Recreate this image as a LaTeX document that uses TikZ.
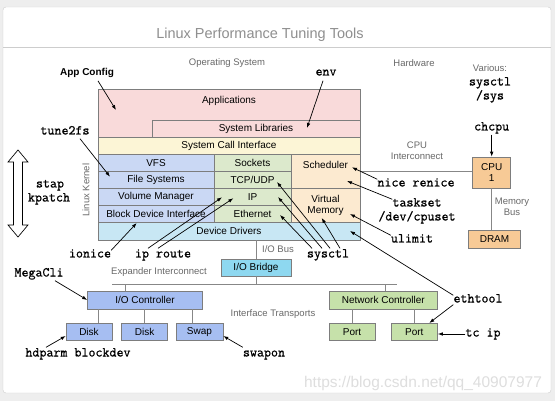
\documentclass[tikz,border=0pt]{standalone}
\usepackage{fontspec}
\setmainfont{Liberation Sans}
\newfontfamily\cmdfont{Latin Modern Mono}[FakeBold=0.9]
\usetikzlibrary{arrows.meta}

\definecolor{appcol}{RGB}{249,218,218}
\definecolor{scicol}{RGB}{252,245,214}
\definecolor{fscol}{RGB}{202,216,244}
\definecolor{netcol}{RGB}{220,233,204}
\definecolor{cpucol}{RGB}{252,234,208}
\definecolor{ddcol}{RGB}{200,231,244}
\definecolor{bridgecol}{RGB}{142,216,240}
\definecolor{iocol}{RGB}{166,190,242}
\definecolor{nccol}{RGB}{198,225,170}
\definecolor{hwcol}{RGB}{247,202,150}
\definecolor{boxline}{RGB}{125,125,125}
\definecolor{busline}{RGB}{135,135,135}
\definecolor{graytxt}{RGB}{105,105,105}
\definecolor{bggray}{RGB}{238,238,238}
\definecolor{framegray}{RGB}{205,205,205}
\definecolor{wmcol}{RGB}{222,222,222}

\begin{document}
\begin{tikzpicture}[x=1pt,y=-1pt,
  box/.style={draw=boxline,line width=0.6pt,inner sep=0pt,font=\fontsize{10}{11.7}\selectfont},
  txt/.style={inner sep=0pt,font=\fontsize{10}{11.7}\selectfont},
  lbl/.style={inner sep=0pt,text=graytxt,font=\fontsize{9.5}{11}\selectfont},
  cmd/.style={inner sep=0pt,text height=7pt,text depth=2pt,font=\fontsize{13.6}{15}\cmdfont},
  tool/.style={-{Latex[length=5pt,width=3.6pt]},line width=0.7pt},
  bus/.style={draw=busline,line width=0.8pt}]

% card
\fill[bggray] (0,0) rectangle (555,401);
\useasboundingbox (0,0) rectangle (555,401);
\fill[white,draw=framegray,rounded corners=3pt] (3,7) rectangle (551,393);
\draw[framegray,line width=0.8pt] (3,47) -- (551,47);
\node[inner sep=0pt,text=graytxt!75,font=\fontsize{14.5}{16}\selectfont] (title) at (260,35) {Linux Performance Tuning Tools};

% headings
\node[lbl] (os) at (227,63) {Operating System};
\node[lbl] (hw) at (414,63) {Hardware};
\node[lbl] (various) at (490,68) {Various:};
\node[cmd] (vsysctl) at (490,83) {sysctl};
\node[cmd] (vsys) at (490,97) {/sys};

% kernel stack
\node[box,fill=appcol,minimum width=262pt,minimum height=48pt] (apps) at (229,113) {};
\node[txt] (appsname) at (229,101) {Applications};
\node[box,fill=appcol,minimum width=208pt,minimum height=17pt] (libs) at (256,128.5) {System Libraries};
\node[box,fill=scicol,minimum width=262pt,minimum height=17pt] (sci) at (229,145.5) {System Call Interface};

\node[box,fill=fscol,minimum width=116pt,minimum height=17.1pt] (vfs) at (156,162.6) {VFS};
\node[box,fill=fscol,minimum width=116pt,minimum height=17.1pt] (fs) at (156,179.7) {File Systems};
\node[box,fill=fscol,minimum width=116pt,minimum height=17.1pt] (vol) at (156,196.8) {Volume Manager};
\node[box,fill=fscol,minimum width=116pt,minimum height=17.1pt] (bdi) at (156,213.9) {Block Device Interface};

\node[box,fill=netcol,minimum width=77pt,minimum height=17.1pt] (sock) at (252.5,162.6) {Sockets};
\node[box,fill=netcol,minimum width=77pt,minimum height=17.1pt] (tcp) at (252.5,179.7) {TCP/UDP};
\node[box,fill=netcol,minimum width=77pt,minimum height=17.1pt] (ip) at (252.5,196.8) {IP};
\node[box,fill=netcol,minimum width=77pt,minimum height=17.1pt] (eth) at (252.5,213.9) {Ethernet};

\node[box,fill=cpucol,minimum width=69pt,minimum height=34.2pt] (sched) at (325.5,171.2) {};
\node[txt] (schedname) at (325.5,165) {Scheduler};
\node[box,fill=cpucol,minimum width=69pt,minimum height=34.2pt,align=center] (vm) at (325.5,205.4) {Virtual\\Memory};

\node[box,fill=ddcol,minimum width=262pt,minimum height=17.5pt] (dd) at (229,231.2) {Device Drivers};
\node[lbl,rotate=90] (kernel) at (86,190) {Linux Kernel};

% hardware
\node[box,fill=hwcol,minimum width=38pt,minimum height=31pt,align=center] (cpu) at (491.7,172.5) {CPU\\1};
\node[box,fill=hwcol,minimum width=52pt,minimum height=18pt] (dram) at (494.5,239.2) {DRAM};
\draw[bus] (sched.east) -- (sched.east -| cpu.west);
\draw[bus] (cpu.south) -- (cpu.south |- dram.north);
\node[lbl] (ci1) at (417,145) {CPU};
\node[lbl] (ci2) at (417,156) {Interconnect};
\node[lbl] (mb1) at (512,202) {Memory};
\node[lbl] (mb2) at (512,212) {Bus};

% I/O
\node[box,fill=bridgecol,minimum width=70pt,minimum height=17pt] (bridge) at (256,267.5) {I/O Bridge};
\draw[bus] (dd.south -| bridge) -- (bridge.north);
\node[lbl] (iobus) at (278,249) {I/O Bus};
\coordinate (busl) at (112,284);
\coordinate (busr) at (396.5,284);
\draw[bus] (busl) -- (busr);
\draw[bus] (bridge.south) -- (bridge.south |- busl);
\node[lbl] (expander) at (159,272) {Expander Interconnect};

\node[box,fill=iocol,minimum width=115pt,minimum height=17.7pt] (ioc) at (145,300) {I/O Controller};
\node[box,fill=nccol,minimum width=108.5pt,minimum height=17.7pt] (nic) at (383.3,300) {Network Controller};
\draw[bus] ([xshift=-20pt]ioc.north) -- ([xshift=-20pt]ioc.north |- busl);
\draw[bus] ([xshift=1.7pt]nic.north) -- ([xshift=1.7pt]nic.north |- busl);
\node[lbl] (transports) at (273,314) {Interface Transports};

\node[box,fill=iocol,minimum width=46pt,minimum height=17.4pt] (disk1) at (89,332) {Disk};
\node[box,fill=iocol,minimum width=46pt,minimum height=17.4pt] (disk2) at (144.6,332) {Disk};
\node[box,fill=iocol,minimum width=47pt,minimum height=17.4pt] (swap) at (199.5,332) {Swap};
\node[box,fill=nccol,minimum width=46pt,minimum height=17.4pt] (port1) at (352,332) {Port};
\node[box,fill=nccol,minimum width=46.5pt,minimum height=17.4pt] (port2) at (414.3,332) {Port};
\draw[bus] ([xshift=9pt]disk1.north) -- ([xshift=9pt]disk1.north |- ioc.south);
\draw[bus] (disk2.north) -- (disk2.north |- ioc.south);
\draw[bus] ([xshift=-7.5pt]swap.north) -- ([xshift=-7.5pt]swap.north |- ioc.south);
\draw[bus] (port1.north) -- (port1.north |- nic.south);
\draw[bus] (port2.north) -- (port2.north |- nic.south);

% stap / kpatch
\draw[line width=0.7pt,fill=white] (18,150) -- (28,162) -- (22.5,162) -- (22.5,225) -- (28,225) -- (18,237)
  -- (8,225) -- (13.5,225) -- (13.5,162) -- (8,162) -- cycle;
\node[cmd] (stap) at (50,185) {stap};
\node[cmd] (kpatch) at (49,199) {kpatch};

% tools
\coordinate (appsin) at (116,110);
\coordinate (libsin) at (307,128);
\coordinate (fsin) at (110,176.7);
\coordinate (bdiin) at (136.7,223);
\coordinate (ipin1) at (222,197.3);
\coordinate (ipin2) at (233.3,198.3);
\coordinate (tcpin) at (277,182);
\coordinate (ipin3) at (278,197);
\coordinate (ethin) at (280,215);
\coordinate (vmin1) at (321.7,218);
\coordinate (vmin2) at (350,214);
\coordinate (schedin1) at (352,167.3);
\coordinate (schedin2) at (347,181);
\coordinate (ddin) at (350,231);

\node[inner sep=0pt,font=\fontsize{10}{12}\selectfont\bfseries] (appcfg) at (87,73) {App Config};
\draw[tool] ([xshift=11pt,yshift=-3pt]appcfg.south) -- (appsin);
\node[cmd] (env) at (326,73) {env};
\draw[tool] ([xshift=-3pt,yshift=-3pt]env.south) -- (libsin);
\node[cmd] (tunefs) at (65,132) {tune2fs};
\draw[tool] ([xshift=15pt,yshift=-2pt]tunefs.south) -- (fsin);
\node[cmd] (ionice) at (90,255) {ionice};
\draw[tool] (ionice.north east) -- (bdiin);
\node[cmd] (iproute) at (163,255) {ip route};
\draw[tool] ([xshift=-15pt,yshift=2pt]iproute.north) -- (ipin1);
\draw[tool] ([xshift=-5pt,yshift=2pt]iproute.north) -- (ipin2);
\node[cmd] (sysctl) at (328,255) {sysctl};
\draw[tool] ([xshift=-16pt,yshift=2pt]sysctl.north) -- (ethin);
\draw[tool] ([xshift=-6pt,yshift=2pt]sysctl.north) -- (ipin3);
\draw[tool] ([xshift=2pt,yshift=2pt]sysctl.north) -- (tcpin);
\draw[tool] ([xshift=12pt,yshift=2pt]sysctl.north) -- (vmin1);
\node[cmd] (nice) at (416,184) {nice renice};
\draw[tool] (nice.north west) -- (schedin1);
\node[cmd] (taskset) at (417,204) {taskset};
\node[cmd] (cpuset) at (417,218) {/dev/cpuset};
\draw[tool] (taskset.north west) -- (schedin2);
\node[cmd] (ulimit) at (412,240) {ulimit};
\draw[tool] (ulimit.north west) -- (vmin2);
\node[cmd] (chcpu) at (491.7,128) {chcpu};
\draw[tool] ([yshift=-2pt]chcpu.south) -- (cpu.north);
\node[cmd] (ethtool) at (478,300) {ethtool};
\draw[tool] (ethtool.north west) -- (ddin);
\draw[tool] (ethtool.south west) -- ([xshift=15pt]port2.north);
\node[cmd] (tcip) at (483,334) {tc ip};
\draw[tool] (tcip.west) -- (tcip.west -| port2.east);
\node[cmd] (megacli) at (39,274) {MegaCli};
\draw[tool] ([xshift=16pt,yshift=-2pt]megacli.south) -- (ioc.west);
\node[cmd] (hdparm) at (78,354) {hdparm blockdev};
\draw[tool] ([xshift=-32pt,yshift=2pt]hdparm.north) -- ([yshift=-4pt]disk1.west);
\node[cmd] (swapon) at (264,354) {swapon};
\draw[tool] ([yshift=2pt]swapon.north west) -- ([yshift=-4pt]swap.east);

% watermark
\node[inner sep=0pt,text=wmcol,font=\fontsize{15.5}{17}\selectfont] (mark) at (423,383) {https://blog.csdn.net/qq\_40907977};
\end{tikzpicture}
\end{document}
